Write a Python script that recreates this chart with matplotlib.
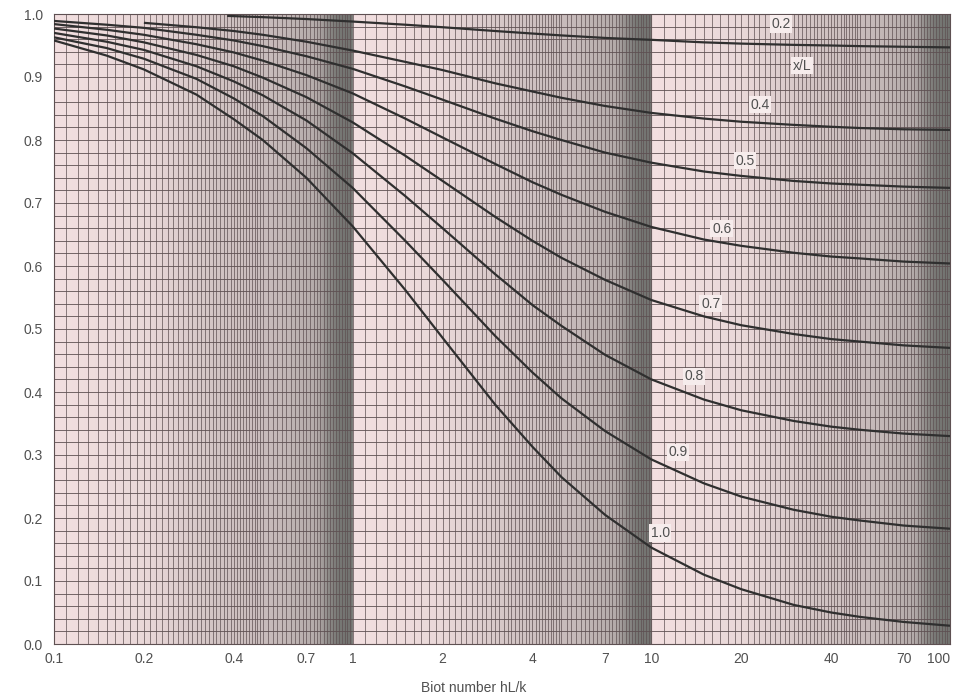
import numpy as np
import matplotlib
matplotlib.use("Agg")
import matplotlib.pyplot as plt
from matplotlib.ticker import NullLocator

# ---- data ----
bi = [0.1, 0.15, 0.2, 0.3, 0.4, 0.5, 0.7, 1, 1.5, 2, 3, 4, 5, 7, 10, 15, 20, 30, 40, 50, 70, 100]
c10 = [0.958, 0.934, 0.912, 0.872, 0.833, 0.800, 0.740, 0.663, 0.562, 0.486, 0.380, 0.313, 0.265, 0.205,
       0.153, 0.110, 0.087, 0.062, 0.050, 0.043, 0.035, 0.029]
c09 = [0.963, 0.946, 0.929, 0.897, 0.866, 0.838, 0.787, 0.724, 0.640, 0.578, 0.489, 0.431, 0.390, 0.338,
       0.293, 0.255, 0.234, 0.213, 0.202, 0.196, 0.188, 0.183]
c08 = [0.970, 0.956, 0.943, 0.917, 0.893, 0.871, 0.831, 0.779, 0.711, 0.660, 0.587, 0.538, 0.505, 0.459,
       0.420, 0.388, 0.371, 0.354, 0.345, 0.340, 0.334, 0.330]
c07 = [0.977, 0.966, 0.955, 0.935, 0.917, 0.899, 0.868, 0.828, 0.775, 0.735, 0.678, 0.640, 0.613, 0.578,
       0.546, 0.520, 0.506, 0.492, 0.484, 0.480, 0.474, 0.470]
c06 = [0.984, 0.975, 0.967, 0.952, 0.939, 0.926, 0.903, 0.874, 0.834, 0.804, 0.762, 0.733, 0.713, 0.686,
       0.662, 0.642, 0.632, 0.621, 0.615, 0.612, 0.607, 0.604]
c05 = [0.989, 0.983, 0.978, 0.967, 0.958, 0.949, 0.933, 0.913, 0.885, 0.864, 0.834, 0.814, 0.800, 0.780,
       0.764, 0.750, 0.743, 0.735, 0.731, 0.729, 0.726, 0.724]
bi04 = [0.2, 0.3, 0.4, 0.5, 0.7, 1, 1.5, 2, 3, 4, 5, 7, 10, 15, 20, 30, 40, 50, 70, 100]
c04 = [0.986, 0.979, 0.973, 0.967, 0.956, 0.942, 0.924, 0.911, 0.890, 0.877, 0.867, 0.854, 0.843, 0.834,
       0.829, 0.824, 0.821, 0.819, 0.817, 0.816]
bi02 = [0.38, 0.5, 0.7, 1, 1.5, 2, 3, 4, 5, 7, 10, 15, 20, 30, 40, 50, 70, 100]
c02 = [0.997, 0.995, 0.992, 0.988, 0.983, 0.979, 0.973, 0.969, 0.966, 0.962, 0.959, 0.955, 0.953, 0.951,
       0.950, 0.949, 0.948, 0.947]

label_text = ["0.2", "x/L", "0.4", "0.5", "0.6", "0.7", "0.8", "0.9", "1.0"]
label_x = [27.2, 31.9, 23.1, 20.6, 17.2, 15.8, 13.9, 12.3, 10.7]
label_y = [0.984, 0.918, 0.856, 0.767, 0.659, 0.540, 0.425, 0.304, 0.176]

xtick_vals = [0.1, 0.2, 0.4, 0.7, 1, 2, 4, 7, 10, 20, 40, 70, 100]
xtick_text = ["0.1", "0.2", "0.4", "0.7", "1", "2", "4", "7", "10", "20", "40", "70", "100"]
ytick_vals = [0.0, 0.1, 0.2, 0.3, 0.4, 0.5, 0.6, 0.7, 0.8, 0.9, 1.0]
ytick_text = ["0.0", "0.1", "0.2", "0.3", "0.4", "0.5", "0.6", "0.7", "0.8", "0.9", "1.0"]

# ---- figure ----
W, H = 955, 697
fig = plt.figure(figsize=(W / 100, H / 100), dpi=100)
ax = fig.add_axes([54 / W, 1 - 644 / H, 896 / W, 630 / H])
ax.set_xscale("log")
ax.set_xlim(0.1, 100)
ax.set_ylim(0, 1)
ax.set_facecolor("#f2dfe0")

# shading of the log graph paper (darkens toward the end of each decade)
u = np.linspace(0, 1, 1200)
t = (u * 3) % 1.0
alpha = np.interp(t, [0, 0.3, 0.55, 0.75, 0.88, 0.92, 0.95, 1.0],
                  [0.0, 0.06, 0.22, 0.30, 0.42, 0.68, 0.82, 0.86])
shade = np.zeros((1, u.size, 4))
shade[..., 0] = 92 / 255
shade[..., 1] = 97 / 255
shade[..., 2] = 93 / 255
shade[..., 3] = alpha
ax.imshow(shade, transform=ax.transAxes, extent=(0, 1, 0, 1), aspect="auto",
          interpolation="bilinear", zorder=0.5)

gridc = "#5e5052"
xgrid = np.concatenate([np.arange(0.10, 0.4995, 0.01), np.arange(0.50, 0.999, 0.02),
                        np.arange(1.0, 4.995, 0.1), np.arange(5.0, 9.99, 0.2),
                        np.arange(10, 49.5, 1), np.arange(50, 100.5, 2)])
ax.vlines(xgrid, 0, 1, colors=gridc, lw=0.55, alpha=0.9, zorder=1)
ygrid = np.arange(0, 1.001, 0.02)
ax.hlines(ygrid, 0.1, 100, colors=gridc, lw=0.6, zorder=1)

curvec = "#2f2f2f"
for xs, ys in [(bi, c10), (bi, c09), (bi, c08), (bi, c07), (bi, c06), (bi, c05), (bi04, c04), (bi02, c02)]:
    ax.plot(xs, ys, color=curvec, lw=1.6, zorder=3, solid_capstyle="butt")

for s, x, y in zip(label_text, label_x, label_y):
    ax.text(x, y, s, ha="center", va="center", fontsize=10, color="#505050",
            family="Liberation Sans", zorder=4,
            bbox=dict(boxstyle="square,pad=0.12", fc="#f6ecec", ec="none"))

ax.set_xticks(xtick_vals)
ax.set_xticklabels(xtick_text)
ax.xaxis.set_minor_locator(NullLocator())
ax.set_yticks(ytick_vals)
ax.set_yticklabels(ytick_text)
ax.tick_params(length=0, labelsize=10, labelcolor="#505050", pad=6)
ax.tick_params(axis="y", pad=8)
for lab in ax.get_xticklabels() + ax.get_yticklabels():
    lab.set_family("Liberation Sans")
ax.get_xticklabels()[-1].set_horizontalalignment("right")

for sp in ax.spines.values():
    sp.set_color(gridc)
    sp.set_linewidth(0.8)

ax.set_xlabel("Biot number hL/k", fontsize=10, color="#505050", family="Liberation Sans")
ax.xaxis.set_label_coords(0.468, -0.058)

fig.savefig("out.png", dpi=100)
